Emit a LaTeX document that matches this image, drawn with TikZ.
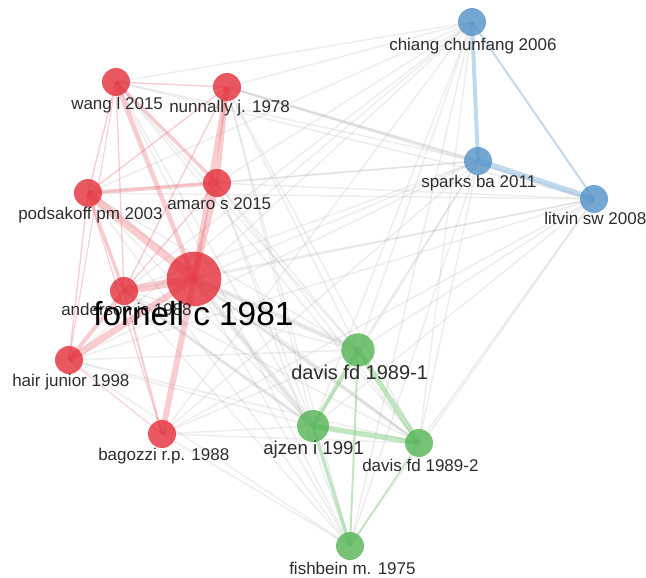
\documentclass[tikz,border=0pt]{standalone}
\usepackage{fontspec}
\setmainfont{Liberation Sans}
\usetikzlibrary{backgrounds}

\definecolor{redN}{RGB}{228,45,56}
\definecolor{blueN}{RGB}{82,145,200}
\definecolor{greenN}{RGB}{84,180,84}
\definecolor{redE}{RGB}{238,120,128}
\definecolor{blueE}{RGB}{140,185,222}
\definecolor{greenE}{RGB}{140,210,140}
\definecolor{grayE}{RGB}{175,175,175}
\definecolor{txt}{RGB}{45,45,45}

\begin{document}
\begin{tikzpicture}[x=0.75pt,y=0.75pt,yscale=-1,xscale=1,
  rdot/.style={circle,inner sep=0pt,minimum size=21pt,fill=redN,fill opacity=0.8},
  bdot/.style={circle,inner sep=0pt,minimum size=21pt,fill=blueN,fill opacity=0.8},
  gdot/.style={circle,inner sep=0pt,minimum size=21pt,fill=greenN,fill opacity=0.8},
  lab/.style={anchor=north west,inner sep=0.75pt,text=txt,font=\fontsize{12.75}{15}\selectfont},
  grayedge/.style={draw=grayE,draw opacity=0.22,line width=1.1pt},
  redge/.style={draw=redE,draw opacity=0.38},
  bedge/.style={draw=blueE,draw opacity=0.55},
  gedge/.style={draw=greenE,draw opacity=0.55}]
\useasboundingbox (0,0) rectangle (646,578);

%Shape: Circle red cluster
\node [rdot] (wang) at (116,82) {};
\node [rdot] (nunnally) at (227,87) {};
\node [rdot] (podsakoff) at (88,193) {};
\node [rdot] (amaro) at (217,183) {};
\node [rdot,minimum size=41pt] (fornell) at (194,279) {};
\node [rdot] (anderson) at (124,291) {};
\node [rdot] (hair) at (69,360) {};
\node [rdot] (bagozzi) at (162,434) {};
%Shape: Circle blue cluster
\node [bdot] (chiang) at (472,22) {};
\node [bdot] (sparks) at (478,161) {};
\node [bdot] (litvin) at (594,199) {};
%Shape: Circle green cluster
\node [gdot,minimum size=25pt] (davisA) at (358,350) {};
\node [gdot,minimum size=24pt] (ajzen) at (313,426) {};
\node [gdot] (davisB) at (419,443) {};
\node [gdot] (fishbein) at (350,546) {};

\begin{scope}[on background layer]
%Straight Lines between clusters
\foreach \a in {wang,nunnally,podsakoff,amaro,fornell,anderson,hair,bagozzi}
  \foreach \b in {chiang,sparks,litvin,davisA,ajzen,davisB,fishbein}
    \draw [grayedge] (\a.center) -- (\b.center);
\foreach \a in {chiang,sparks,litvin}
  \foreach \b in {davisA,ajzen,davisB,fishbein}
    \draw [grayedge] (\a.center) -- (\b.center);
\draw [grayedge,line width=4pt] (fornell.center) -- (davisA.center);
\draw [grayedge,line width=4pt] (fornell.center) -- (ajzen.center);
\draw [grayedge,line width=2.5pt] (fornell.center) -- (davisB.center);
\draw [grayedge,line width=2.5pt] (anderson.center) -- (ajzen.center);
\draw [grayedge,line width=2pt] (nunnally.center) -- (sparks.center);
%Straight Lines red cluster
\foreach \a/\b/\w in {wang/nunnally/1,wang/podsakoff/1,wang/anderson/1,wang/hair/0.8,
    wang/amaro/2.5,wang/fornell/3.5,nunnally/podsakoff/1,nunnally/anderson/1,
    nunnally/amaro/3.5,nunnally/fornell/4,podsakoff/amaro/3,podsakoff/fornell/6,
    podsakoff/anderson/2.5,podsakoff/hair/1,podsakoff/bagozzi/0.8,amaro/fornell/4.5,
    amaro/anderson/1,fornell/anderson/6,fornell/hair/5,fornell/bagozzi/4.5,
    anderson/hair/3,anderson/bagozzi/1.5,hair/bagozzi/0.8}
  \draw [redge,line width=\w pt] (\a.center) -- (\b.center);
%Straight Lines blue cluster
\draw [bedge,line width=3pt] (chiang.center) -- (sparks.center);
\draw [bedge,line width=1.5pt] (chiang.center) -- (litvin.center);
\draw [bedge,line width=4.5pt] (sparks.center) -- (litvin.center);
%Straight Lines green cluster
\draw [gedge,line width=3pt] (davisA.center) -- (ajzen.center);
\draw [gedge,line width=4pt] (davisA.center) -- (davisB.center);
\draw [gedge,line width=1.5pt] (davisA.center) -- (fishbein.center);
\draw [gedge,line width=4pt] (ajzen.center) -- (davisB.center);
\draw [gedge,line width=2.5pt] (ajzen.center) -- (fishbein.center);
\draw [gedge,line width=1.2pt] (davisB.center) -- (fishbein.center);
\end{scope}

% Text Node
\node [lab] (wangL) at (70,96) {wang l 2015};
% Text Node
\node [lab] (nunnallyL) at (168,99) {nunnally j. 1978};
% Text Node
\node [lab] (podsakoffL) at (17,206) {podsakoff pm 2003};
% Text Node
\node [lab] (amaroL) at (166,196) {amaro s 2015};
% Text Node
\node [lab] (andersonL) at (60,302) {anderson jc 1988};
% Text Node
\node [lab,text=black,font=\fontsize{25}{30}\selectfont] (fornellL) at (92,300) {fornell c 1981};
% Text Node
\node [lab] (hairL) at (11,373) {hair junior 1998};
% Text Node
\node [lab] (bagozziL) at (97,447) {bagozzi r.p. 1988};
% Text Node
\node [lab] (chiangL) at (388,37) {chiang chunfang 2006};
% Text Node
\node [lab] (sparksL) at (420,174) {sparks ba 2011};
% Text Node
\node [lab] (litvinL) at (543,211) {litvin sw 2008};
% Text Node
\node [lab,font=\fontsize{15}{18}\selectfont] (davisAL) at (290,364) {davis fd 1989-1};
% Text Node
\node [lab,font=\fontsize{14}{17}\selectfont] (ajzenL) at (262,440) {ajzen i 1991};
% Text Node
\node [lab] (davisBL) at (361,458) {davis fd 1989-2};
% Text Node
\node [lab] (fishbeinL) at (288,561) {fishbein m. 1975};

\end{tikzpicture}
\end{document}
